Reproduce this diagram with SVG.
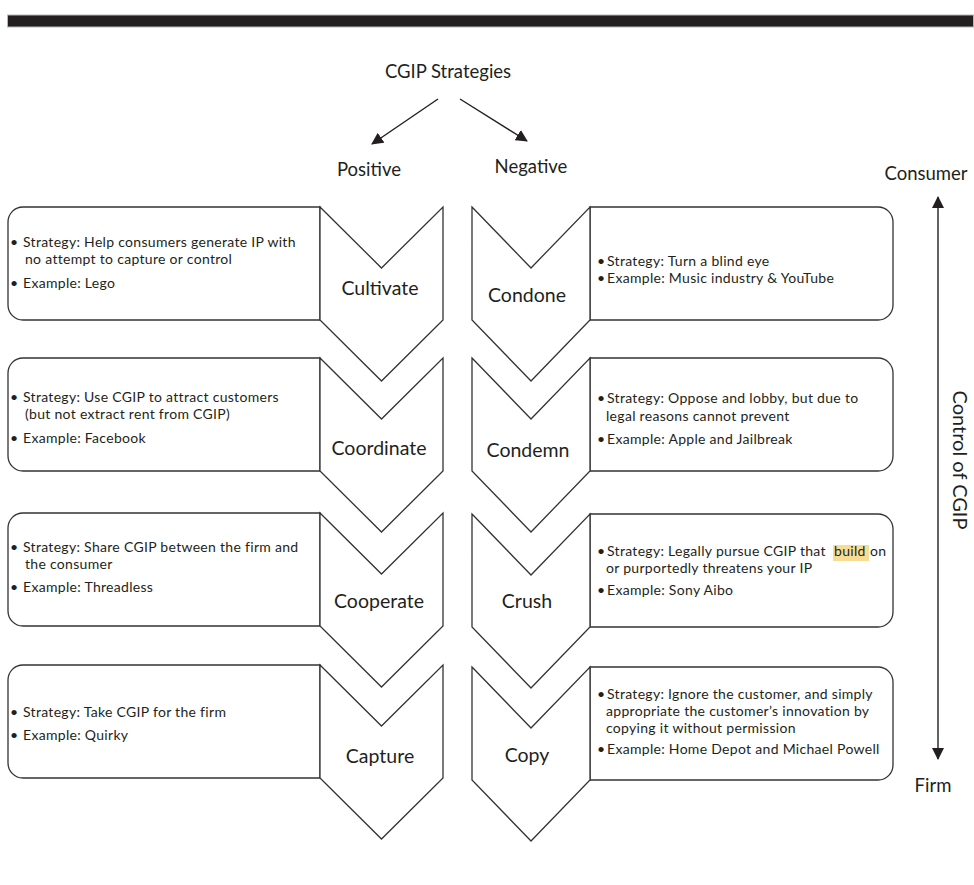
<svg xmlns="http://www.w3.org/2000/svg" width="974" height="885" viewBox="0 0 974 885">
<style>
  text { font-family: Lato, "Open Sans", "Liberation Sans", sans-serif; fill: #231f20; }
  .hdr { font-size: 18.5px; }
  .lbl { font-size: 19.5px; text-anchor: middle; }
  .body { font-size: 14px; letter-spacing: 0.3px; }
  .shape { fill: #ffffff; stroke: #333333; stroke-width: 1.3; stroke-linejoin: miter; }
  .conn { stroke: #231f20; stroke-width: 1.4; fill: none; }
</style>
<defs>
  <marker id="ah" viewBox="0 0 12 12" refX="11" refY="6" markerWidth="12" markerHeight="12" orient="auto-start-reverse" markerUnits="userSpaceOnUse">
    <path d="M0,0 L12,6 L0,12 z" fill="#231f20"/>
  </marker>
</defs>
<rect x="0" y="0" width="974" height="885" fill="#ffffff"/>
<rect x="7.5" y="15" width="966" height="12" fill="#231f20" stroke="#b8b8b8" stroke-width="1"/>

<g id="title"><text class="hdr" x="448" y="78" text-anchor="middle">CGIP Strategies</text></g>
<g id="positive"><text class="hdr" x="369" y="176" text-anchor="middle">Positive</text></g>
<g id="negative"><text class="hdr" x="531" y="173" text-anchor="middle">Negative</text></g>
<g id="consumer"><text class="hdr" x="926" y="180" text-anchor="middle">Consumer</text></g>
<g id="firm"><text class="hdr" x="933" y="792" text-anchor="middle">Firm</text></g>
<g id="control"><text class="hdr" transform="translate(953,460) rotate(90)" text-anchor="middle" style="font-size:20px">Control of CGIP</text></g>

<g id="connectors">
  <line class="conn" x1="438" y1="99" x2="372" y2="144" marker-end="url(#ah)"/>
  <line class="conn" x1="460" y1="99" x2="527" y2="141" marker-end="url(#ah)"/>
  <line class="conn" x1="938" y1="197" x2="938" y2="759" marker-start="url(#ah)" marker-end="url(#ah)"/>
</g>

<!-- Positive column -->
<g id="cultivate">
  <path class="shape" d="M320,207 H23 A15,15 0 0 0 8,222 V305 A15,15 0 0 0 23,320 H320 Z"/>
  <polygon class="shape" points="320,207 381.5,268 443,207 443,320 381.5,381 320,320"/>
  <text class="lbl" x="380" y="295">Cultivate</text>
  <text class="body" y="247"><tspan x="10">•</tspan><tspan x="23">Strategy: Help consumers generate IP with</tspan></text>
  <text class="body" x="25" y="264">no attempt to capture or control</text>
  <text class="body" y="288"><tspan x="10">•</tspan><tspan x="23">Example: Lego</tspan></text>
</g>
<g id="coordinate">
  <path class="shape" d="M320,358 H23 A15,15 0 0 0 8,373 V456 A15,15 0 0 0 23,471 H320 Z"/>
  <polygon class="shape" points="320,358 381.5,419 443,358 443,471 381.5,532 320,471"/>
  <text class="lbl" x="379" y="455">Coordinate</text>
  <text class="body" y="402"><tspan x="10">•</tspan><tspan x="23">Strategy: Use CGIP to attract customers</tspan></text>
  <text class="body" x="25" y="419">(but not extract rent from CGIP)</text>
  <text class="body" y="443"><tspan x="10">•</tspan><tspan x="23">Example: Facebook</tspan></text>
</g>
<g id="cooperate">
  <path class="shape" d="M320,513 H23 A15,15 0 0 0 8,528 V611 A15,15 0 0 0 23,626 H320 Z"/>
  <polygon class="shape" points="320,513 381.5,574 443,513 443,626 381.5,687 320,626"/>
  <text class="lbl" x="379" y="608">Cooperate</text>
  <text class="body" y="552"><tspan x="10">•</tspan><tspan x="23">Strategy: Share CGIP between the firm and</tspan></text>
  <text class="body" x="25" y="569">the consumer</text>
  <text class="body" y="592"><tspan x="10">•</tspan><tspan x="23">Example: Threadless</tspan></text>
</g>
<g id="capture">
  <path class="shape" d="M320,665 H23 A15,15 0 0 0 8,680 V763 A15,15 0 0 0 23,778 H320 Z"/>
  <polygon class="shape" points="320,665 381.5,726 443,665 443,778 381.5,839 320,778"/>
  <text class="lbl" x="380" y="763">Capture</text>
  <text class="body" y="717"><tspan x="10">•</tspan><tspan x="23">Strategy: Take CGIP for the firm</tspan></text>
  <text class="body" y="740"><tspan x="10">•</tspan><tspan x="23">Example: Quirky</tspan></text>
</g>

<!-- Negative column -->
<g id="condone">
  <path class="shape" d="M590,207 H878 A15,15 0 0 1 893,222 V305 A15,15 0 0 1 878,320 H590 Z"/>
  <polygon class="shape" points="472,207 531,268 590,207 590,320 531,381 472,320"/>
  <text class="lbl" x="527" y="302">Condone</text>
  <text class="body" y="266"><tspan x="597">•</tspan><tspan x="607">Strategy: Turn a blind eye</tspan></text>
  <text class="body" y="283"><tspan x="597">•</tspan><tspan x="607">Example: Music industry &amp; YouTube</tspan></text>
</g>
<g id="condemn">
  <path class="shape" d="M590,358 H878 A15,15 0 0 1 893,373 V456 A15,15 0 0 1 878,471 H590 Z"/>
  <polygon class="shape" points="472,358 531,419 590,358 590,471 531,532 472,471"/>
  <text class="lbl" x="528" y="457">Condemn</text>
  <text class="body" y="403"><tspan x="597">•</tspan><tspan x="607">Strategy: Oppose and lobby, but due to</tspan></text>
  <text class="body" x="606" y="421">legal reasons cannot prevent</text>
  <text class="body" y="444"><tspan x="597">•</tspan><tspan x="607">Example: Apple and Jailbreak</tspan></text>
</g>
<g id="crush">
  <path class="shape" d="M590,514 H878 A15,15 0 0 1 893,529 V612 A15,15 0 0 1 878,627 H590 Z"/>
  <polygon class="shape" points="472,514 531,575 590,514 590,627 531,688 472,627"/>
  <text class="lbl" x="527" y="608">Crush</text>
  <rect x="833" y="545" width="36" height="16" fill="#f8dc93"/>
  <text class="body" y="556"><tspan x="597">•</tspan><tspan x="607">Strategy: Legally pursue CGIP that</tspan><tspan x="834">build</tspan><tspan x="870">on</tspan></text>
  <text class="body" x="606" y="573">or purportedly threatens your IP</text>
  <text class="body" y="595"><tspan x="597">•</tspan><tspan x="607">Example: Sony Aibo</tspan></text>
</g>
<g id="copy">
  <path class="shape" d="M590,667 H878 A15,15 0 0 1 893,682 V765 A15,15 0 0 1 878,780 H590 Z"/>
  <polygon class="shape" points="472,667 531,728 590,667 590,780 531,841 472,780"/>
  <text class="lbl" x="527" y="762">Copy</text>
  <text class="body" y="699"><tspan x="597">•</tspan><tspan x="607">Strategy: Ignore the customer, and simply</tspan></text>
  <text class="body" x="606" y="716">appropriate the customer’s innovation by</text>
  <text class="body" x="606" y="733">copying it without permission</text>
  <text class="body" y="754"><tspan x="597">•</tspan><tspan x="607">Example: Home Depot and Michael Powell</tspan></text>
</g>
</svg>
